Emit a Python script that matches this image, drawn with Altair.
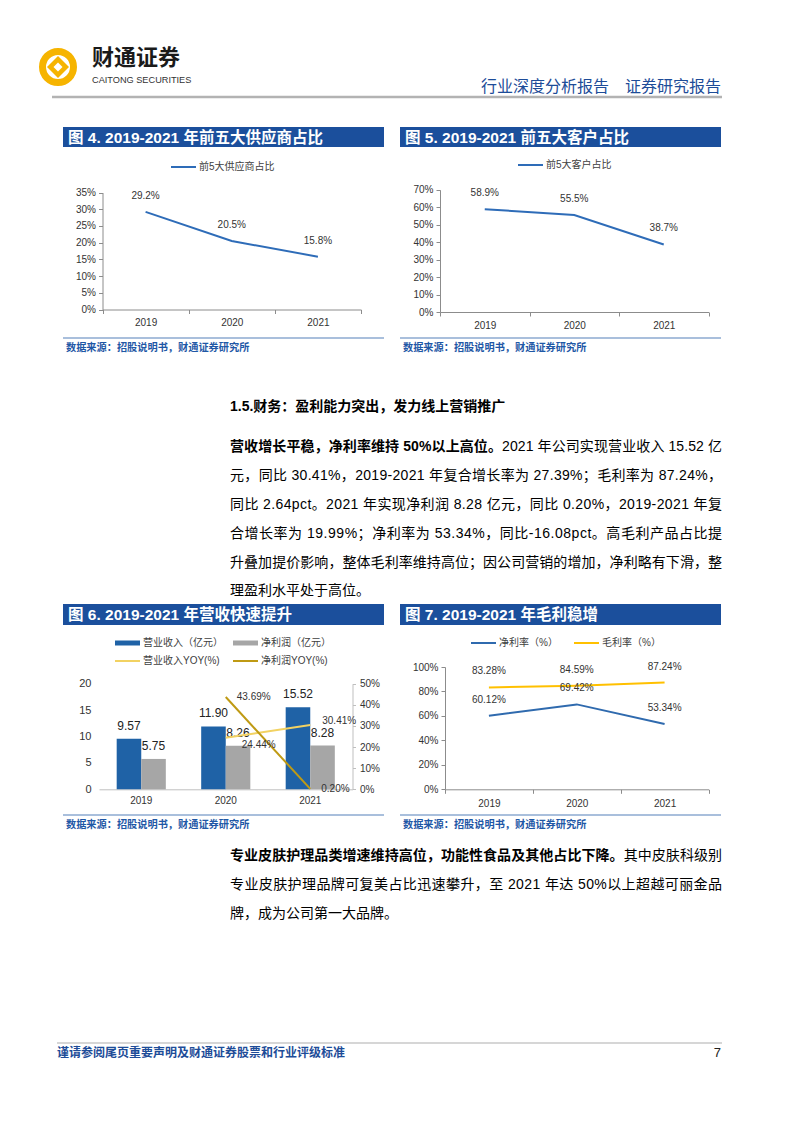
import altair as alt
import pandas as pd

# ---------------- canvas helpers (page coords -> canvas coords) ----------------
W, H = 786, 1117
def px(x): return x - 8
def py(y): return y - 8

CJK = "Noto Sans CJK SC"
MIX = "Liberation Sans, Noto Sans CJK SC"
LAT = "Liberation Sans"

TITLE_BLUE = "#1b4f9c"
HDR_BLUE = "#1d4c98"
SRC_BLUE = "#1f58a6"
SRC_LINE = "#a9bfdc"
AX = "#8c8c8c"
GOLD = "#f6b400"

# ---------------- data ----------------
years = ["2019", "2020", "2021"]
supplier_top5 = [29.2, 20.5, 15.8]
customer_top5 = [58.9, 55.5, 38.7]
bar_series = ["营业收入", "净利润"]
revenue = [9.57, 11.90, 15.52]
net_profit = [5.75, 8.26, 8.28]
yoy_series = ["营业收入YOY", "净利润YOY"]
yoy_years = ["2020", "2021"]
revenue_yoy = [24.44, 30.41]
profit_yoy = [43.69, 0.20]
margin_series = ["净利率", "毛利率"]
net_margin = [60.12, 69.42, 53.34]
gross_margin = [83.28, 84.59, 87.24]

ONE = pd.DataFrame({"k": [0]})

def txt(s, x, y, size=14, color="#111111", weight="normal", align="left", font=MIX, baseline="middle"):
    return alt.Chart(ONE).mark_text(text=s, align=align, baseline=baseline, fontSize=size,
                                    color=color, fontWeight=weight, font=font).encode(
        x=alt.value(px(x)), y=alt.value(py(y)))

def rect(x1, x2, y1, y2, color):
    return alt.Chart(ONE).mark_rect(color=color).encode(
        x=alt.value(px(x1)), x2=alt.value(px(x2)), y=alt.value(py(y1)), y2=alt.value(py(y2)))

def hline(x1, x2, y, color, width=1.0):
    return alt.Chart(ONE).mark_rule(color=color, strokeWidth=width).encode(
        x=alt.value(px(x1)), x2=alt.value(px(x2)), y=alt.value(py(y)))

def sym(x, y, shape, size, color, filled=True, sw=0):
    if filled:
        m = alt.Chart(ONE).mark_point(shape=shape, size=size, filled=True, fill=color, opacity=1, strokeWidth=0)
    else:
        m = alt.Chart(ONE).mark_point(shape=shape, size=size, filled=False, stroke=color, strokeWidth=sw, opacity=1)
    return m.encode(x=alt.value(px(x)), y=alt.value(py(y)))

def title_bar(x1, x2, y1, y2, s):
    return [rect(x1, x2, y1, y2, TITLE_BLUE),
            txt(s, x1 + 5, (y1 + y2) / 2 + 0.5, size=15.5, color="white", weight="bold", font=MIX)]

def source(x1, x2, y):
    return [hline(x1, x2, y, SRC_LINE, 2),
            txt("数据来源：招股说明书，财通证券研究所", x1 + 3, y + 9.5, size=10.2, weight="bold",
                color=SRC_BLUE, font=CJK)]

def leg_line(x, y, color, label, sw=2):
    return [hline(x, x + 25, y, color, sw), txt(label, x + 28, y, size=10, color="#404040", font=MIX)]

def leg_rect(x, y, color, label):
    return [rect(x, x + 25, y - 2.5, y + 2.5, color), txt(label, x + 28, y, size=10, color="#404040", font=MIX)]

# ---------------- justified body text (per-character layout) ----------------
ARIAL_W = {".": 0.278, "%": 0.889, "-": 0.333, " ": 0.278, "p": 0.556, "c": 0.5, "t": 0.278}
BODY_L, BODY_R, BODY_SIZE = 230, 722, 14

def char_w(ch, size):
    if ord(ch) > 0x2000:
        return size
    if ch.isdigit():
        return 0.556 * size
    return ARIAL_W.get(ch, 0.556) * size

def body_line(segments, y, justify=True, size=BODY_SIZE):
    chars = [(ch, w) for s, w in segments for ch in s]
    widths = [char_w(ch, size) for ch, _ in chars]
    gap = ((BODY_R - BODY_L) - sum(widths)) / (len(chars) - 1) if justify else 0.0
    rows, x = [], BODY_L
    for (ch, w), wd in zip(chars, widths):
        if ch != " ":
            rows.append({"c": ch, "x": px(x), "w": w})
        x += wd + gap
    df = pd.DataFrame(rows)
    out = []
    for w in df["w"].unique():
        out.append(alt.Chart(df[df["w"] == w]).mark_text(
            align="left", baseline="middle", fontSize=size, font=MIX, fontWeight=w, color="#000000").encode(
            x=alt.X("x:Q", scale=None), y=alt.value(py(y)), text="c:N"))
    return out

# ---------------- line charts (fig 4, fig 5) ----------------
def line_chart(values, x0, x1, yb, yt, ymax, step, color, fmt):
    df = pd.DataFrame({"year": years, "v": values})
    xs = alt.X("year:N", sort=years,
               scale=alt.Scale(type="band", domain=years, range=[px(x0), px(x1)], paddingInner=0, paddingOuter=0),
               axis=alt.Axis(orient="bottom", offset=py(yb) - H, title=None, labelAngle=0, tickBand="extent",
                             tickSize=4, tickColor=AX, domainColor=AX, labelFont=LAT, labelFontSize=10,
                             labelColor="#333333", labelPadding=4, grid=False))
    ys = alt.Y("v:Q",
               scale=alt.Scale(domain=[0, ymax], range=[py(yb), py(yt)], nice=False, zero=True),
               axis=alt.Axis(orient="left", offset=-px(x0), title=None, values=list(range(0, ymax + 1, step)),
                             labelExpr="datum.value + '%'", tickSize=4, tickColor=AX, domainColor=AX,
                             labelFont=LAT, labelFontSize=10, labelColor="#333333", labelPadding=3, grid=False))
    line = alt.Chart(df).mark_line(color=color, strokeWidth=2).encode(x=xs, y=ys)
    lab = alt.Chart(df).transform_calculate(lbl=f"format(datum.v, '{fmt}') + '%'").mark_text(
        dy=-16, fontSize=10, font=LAT, color="#333333").encode(x=xs, y=ys, text="lbl:N")
    return alt.layer(line, lab)

chart4 = line_chart(supplier_top5, 102.5, 361, 309.5, 192.5, 35, 5, "#2e6cb8", ".1f")
chart5 = line_chart(customer_top5, 440, 708.5, 312, 189.8, 70, 10, "#2e6cb8", ".1f")

# ---------------- fig 6: bars + yoy lines ----------------
bars_df = pd.DataFrame({
    "year": years * 2,
    "s": [bar_series[0]] * 3 + [bar_series[1]] * 3,
    "v": revenue + net_profit,
})
yoy_df = pd.DataFrame({
    "year": yoy_years * 2,
    "s": [yoy_series[0]] * 2 + [yoy_series[1]] * 2,
    "v": revenue_yoy + profit_yoy,
})
X6 = alt.X("year:N", sort=years,
           scale=alt.Scale(type="band", domain=years, range=[px(99), px(352.5)], paddingInner=0, paddingOuter=0),
           axis=alt.Axis(orient="bottom", offset=py(789.3) - H, title=None, labelAngle=0, ticks=False,
                         domainColor="#bfbfbf", labelFont=LAT, labelFontSize=10, labelColor="#333333",
                         labelPadding=6, grid=False))
XO6 = alt.XOffset("s:N", sort=bar_series, scale=alt.Scale(domain=bar_series, paddingOuter=0.72, paddingInner=0))
YL6 = alt.Y("v:Q", scale=alt.Scale(domain=[0, 20], range=[py(789.3), py(683.7)], nice=False),
            axis=alt.Axis(orient="left", offset=-px(99), title=None, values=[0, 5, 10, 15, 20], domain=False,
                          ticks=False, labelPadding=8, labelFont=LAT, labelFontSize=11, labelColor="#333333",
                          grid=False))
YR6 = alt.Y("v:Q", scale=alt.Scale(domain=[0, 50], range=[py(789.3), py(683.7)], nice=False),
            axis=alt.Axis(orient="right", offset=px(352.5) - W, title=None, values=[0, 10, 20, 30, 40, 50],
                          labelExpr="datum.value + '%'", tickSize=3, tickColor="#bfbfbf", domainColor="#bfbfbf",
                          labelPadding=4, labelFont=LAT, labelFontSize=10, labelColor="#333333", grid=False))
bars = alt.Chart(bars_df).mark_bar().encode(
    x=X6, xOffset=XO6, y=YL6,
    color=alt.Color("s:N", scale=alt.Scale(domain=bar_series, range=["#1f62a6", "#a6a6a6"]), legend=None))
bar_lab = alt.Chart(bars_df).transform_calculate(lbl="format(datum.v, '.2f')").mark_text(
    dy=-13, fontSize=12, font=LAT, color="#222222").encode(x=X6, xOffset=XO6, y=YL6, text="lbl:N")
yoy_line = alt.Chart(yoy_df).mark_line(strokeWidth=2).encode(
    x=X6, y=YR6,
    color=alt.Color("s:N", scale=alt.Scale(domain=yoy_series, range=["#f2d262", "#bf9a14"]), legend=None))

def yoy_label(cond, dx, dy):
    return alt.Chart(yoy_df).transform_filter(cond).transform_calculate(
        lbl="format(datum.v, '.2f') + '%'").mark_text(
        align="left", dx=dx, dy=dy, fontSize=10, font=LAT, color="#333333").encode(x=X6, y=YR6, text="lbl:N")

yoy_labs = [
    yoy_label(f"datum.s == '{yoy_series[1]}'", 11, 0),
    yoy_label(f"datum.s == '{yoy_series[0]}' && datum.year == '2020'", 16, 7),
    yoy_label(f"datum.s == '{yoy_series[0]}' && datum.year == '2021'", 12, -4),
]
chart6 = alt.layer(
    alt.layer(bars, bar_lab),
    alt.layer(yoy_line, *yoy_labs),
).resolve_scale(y="independent", color="independent")

# ---------------- fig 7: margins ----------------
m_df = pd.DataFrame({
    "year": years * 2,
    "s": [margin_series[0]] * 3 + [margin_series[1]] * 3,
    "v": net_margin + gross_margin,
})
X7 = alt.X("year:N", sort=years,
           scale=alt.Scale(type="band", domain=years, range=[px(445), px(708.5)], paddingInner=0, paddingOuter=0),
           axis=alt.Axis(orient="bottom", offset=py(789.3) - H, title=None, labelAngle=0, tickBand="extent",
                         tickSize=4, tickColor=AX, domainColor=AX, labelFont=LAT, labelFontSize=10,
                         labelColor="#333333", labelPadding=5, grid=False))
Y7 = alt.Y("v:Q", scale=alt.Scale(domain=[0, 100], range=[py(789.3), py(667)], nice=False),
           axis=alt.Axis(orient="left", offset=-px(445), title=None, values=[0, 20, 40, 60, 80, 100],
                         labelExpr="datum.value + '%'", tickSize=4, tickColor=AX, domainColor=AX,
                         labelFont=LAT, labelFontSize=10, labelColor="#333333", labelPadding=3, grid=False))
m_line = alt.Chart(m_df).mark_line(strokeWidth=2).encode(
    x=X7, y=Y7,
    color=alt.Color("s:N", scale=alt.Scale(domain=margin_series, range=["#2f6aae", "#ffc000"]), legend=None))
m_lab = alt.Chart(m_df).transform_calculate(lbl="format(datum.v, '.2f') + '%'").mark_text(
    dy=-16, fontSize=10, font=LAT, color="#333333").encode(x=X7, y=Y7, text="lbl:N")
chart7 = alt.layer(m_line, m_lab)

# ---------------- page decoration ----------------
deco = []
deco += [sym(58, 67, "circle", 31 ** 2, GOLD, filled=False, sw=7),
         sym(58, 67, "diamond", 22 ** 2, GOLD),
         sym(58, 67, "diamond", 9 ** 2, "white")]
deco += [txt("财通证券", 92, 58, size=22, weight="bold", font=CJK, color="#1a1a1a"),
         txt("CAITONG SECURITIES", 92, 80, size=9.2, font=LAT, color="#333333"),
         txt("行业深度分析报告　证券研究报告", 721, 87, size=16, color=HDR_BLUE, align="right", font=CJK),
         hline(52, 722, 97, "#b3b3b3", 2.5)]
deco += title_bar(63, 384, 127, 147, "图 4. 2019-2021 年前五大供应商占比")
deco += title_bar(400, 721, 127, 147, "图 5. 2019-2021 前五大客户占比")
deco += title_bar(63, 384, 604, 625, "图 6. 2019-2021 年营收快速提升")
deco += title_bar(400, 721, 604, 625, "图 7. 2019-2021 年毛利稳增")
deco += leg_line(171, 167, "#2e6cb8", "前5大供应商占比")
deco += leg_line(518, 165, "#2e6cb8", "前5大客户占比")
deco += leg_rect(115, 643, "#1f62a6", "营业收入（亿元）")
deco += leg_rect(233, 643, "#a6a6a6", "净利润（亿元）")
deco += leg_line(115, 661, "#f2d262", "营业收入YOY(%)")
deco += leg_line(233, 661, "#bf9a14", "净利润YOY(%)")
deco += leg_line(471, 643, "#2f6aae", "净利率（%）")
deco += leg_line(574, 643, "#ffc000", "毛利率（%）")
deco += source(63, 384, 338)
deco += source(400, 721, 338)
deco += source(63, 384, 815)
deco += source(400, 721, 815)

# body text
deco += [txt("1.5.财务：盈利能力突出，发力线上营销推广", BODY_L, 407, size=14, weight="bold", color="#000000")]
p1_y = [447, 476, 505, 534, 563, 591]
para1 = [
    [("营收增长平稳，净利率维持 50%以上高位。", "bold"), ("2021 年公司实现营业收入 15.52 亿", "normal")],
    [("元，同比 30.41%，2019-2021 年复合增长率为 27.39%；毛利率为 87.24%，", "normal")],
    [("同比 2.64pct。2021 年实现净利润 8.28 亿元，同比 0.20%，2019-2021 年复", "normal")],
    [("合增长率为 19.99%；净利率为 53.34%，同比-16.08pct。高毛利产品占比提", "normal")],
    [("升叠加提价影响，整体毛利率维持高位；因公司营销的增加，净利略有下滑，整", "normal")],
    [("理盈利水平处于高位。", "normal")],
]
for i, (segs, y) in enumerate(zip(para1, p1_y)):
    deco += body_line(segs, y, justify=(i < len(para1) - 1))
p2_y = [856, 885, 914]
para2 = [
    [("专业皮肤护理品类增速维持高位，功能性食品及其他占比下降。", "bold"), ("其中皮肤科级别", "normal")],
    [("专业皮肤护理品牌可复美占比迅速攀升，至 2021 年达 50%以上超越可丽金品", "normal")],
    [("牌，成为公司第一大品牌。", "normal")],
]
for i, (segs, y) in enumerate(zip(para2, p2_y)):
    deco += body_line(segs, y, justify=(i < len(para2) - 1))

deco += [hline(57, 722, 1043, "#c8c8c8", 1.5),
         txt("谨请参阅尾页重要声明及财通证券股票和行业评级标准", 57, 1053, size=12, weight="bold",
             color=HDR_BLUE, font=CJK),
         txt("7", 721, 1053, size=13, align="right", font=LAT, color="#222222")]

chart = alt.layer(*deco, chart4, chart5, chart6, chart7).resolve_scale(
    x="independent", y="independent", color="independent"
).properties(
    width=W, height=H, autosize=alt.AutoSizeParams(type="none"), padding=0, background="white"
).configure_view(stroke="transparent")

chart.save("out.html", embed_options={"renderer": "svg", "actions": False})
